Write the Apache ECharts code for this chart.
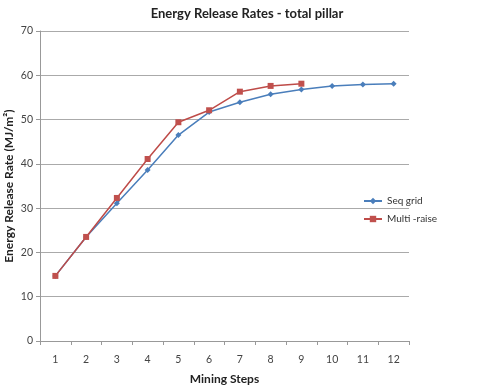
<!DOCTYPE html>
<html><head><meta charset="utf-8">
<script src="https://cdn.jsdelivr.net/npm/echarts@6/dist/echarts.min.js"></script>
<style>html,body{margin:0;padding:0;background:#fff}#c{width:485px;height:391px}</style>
</head><body><div id="c"></div>
<script>
const categories = ['1','2','3','4','5','6','7','8','9','10','11','12'];
const seqGrid = [14.7, 23.5, 31.1, 38.6, 46.5, 51.7, 53.9, 55.7, 56.8, 57.6, 57.9, 58.1];
const multiRaise = [14.7, 23.5, 32.3, 41.1, 49.4, 52.1, 56.3, 57.6, 58.1];
const yTicks = {min: 0, max: 70, interval: 10};

const font = 'Lato, "Open Sans", sans-serif';
const chart = echarts.init(document.getElementById('c'));
chart.setOption({
  animation: false,
  backgroundColor: '#fff',
  title: {text: 'Energy Release Rates - total pillar', left: 242, top: 2, textAlign: 'center',
    textStyle: {fontFamily: font, fontSize: 13, fontWeight: 'bold', color: '#222'}},
  grid: {left: 40, right: 76, top: 31, bottom: 50, outerBoundsMode: 'none', containLabel: false},
  legend: {orient: 'vertical', left: 358, top: 191, itemGap: 8, itemWidth: 18, itemHeight: 8,
    textStyle: {fontFamily: font, fontSize: 10, color: '#333'},
    data: ['Seq grid', 'Multi -raise']},
  xAxis: {type: 'category', data: categories, boundaryGap: true,
    name: 'Mining Steps', nameLocation: 'middle', nameGap: 32, nameMoveOverlap: false,
    nameTextStyle: {fontFamily: font, fontSize: 12, fontWeight: 'bold', color: '#222'},
    axisLine: {lineStyle: {color: '#999'}},
    axisTick: {show: true, length: 4, lineStyle: {color: '#999'}},
    axisLabel: {fontFamily: font, fontSize: 10.5, color: '#444', margin: 13}},
  yAxis: {type: 'value', min: yTicks.min, max: yTicks.max, interval: yTicks.interval,
    name: 'Energy Release Rate (MJ/m²)', nameLocation: 'middle', nameGap: 25, nameMoveOverlap: false,
    nameTextStyle: {fontFamily: font, fontSize: 12, fontWeight: 'bold', color: '#222'},
    axisLine: {show: true, lineStyle: {color: '#999'}},
    axisTick: {show: true, length: 4, lineStyle: {color: '#999'}},
    axisLabel: {fontFamily: font, fontSize: 10.5, color: '#444', margin: 7},
    splitLine: {lineStyle: {color: '#aaa', width: 1}}},
  series: [
    {name: 'Seq grid', type: 'line', data: seqGrid, symbol: 'diamond', symbolSize: 6,
      itemStyle: {color: '#4A7EBB'}, lineStyle: {color: '#4A7EBB', width: 1.5}},
    {name: 'Multi -raise', type: 'line', data: multiRaise, symbol: 'rect', symbolSize: 6,
      itemStyle: {color: '#C0504D'}, lineStyle: {color: '#BE4B48', width: 1.5}}
  ]
});
</script></body></html>
